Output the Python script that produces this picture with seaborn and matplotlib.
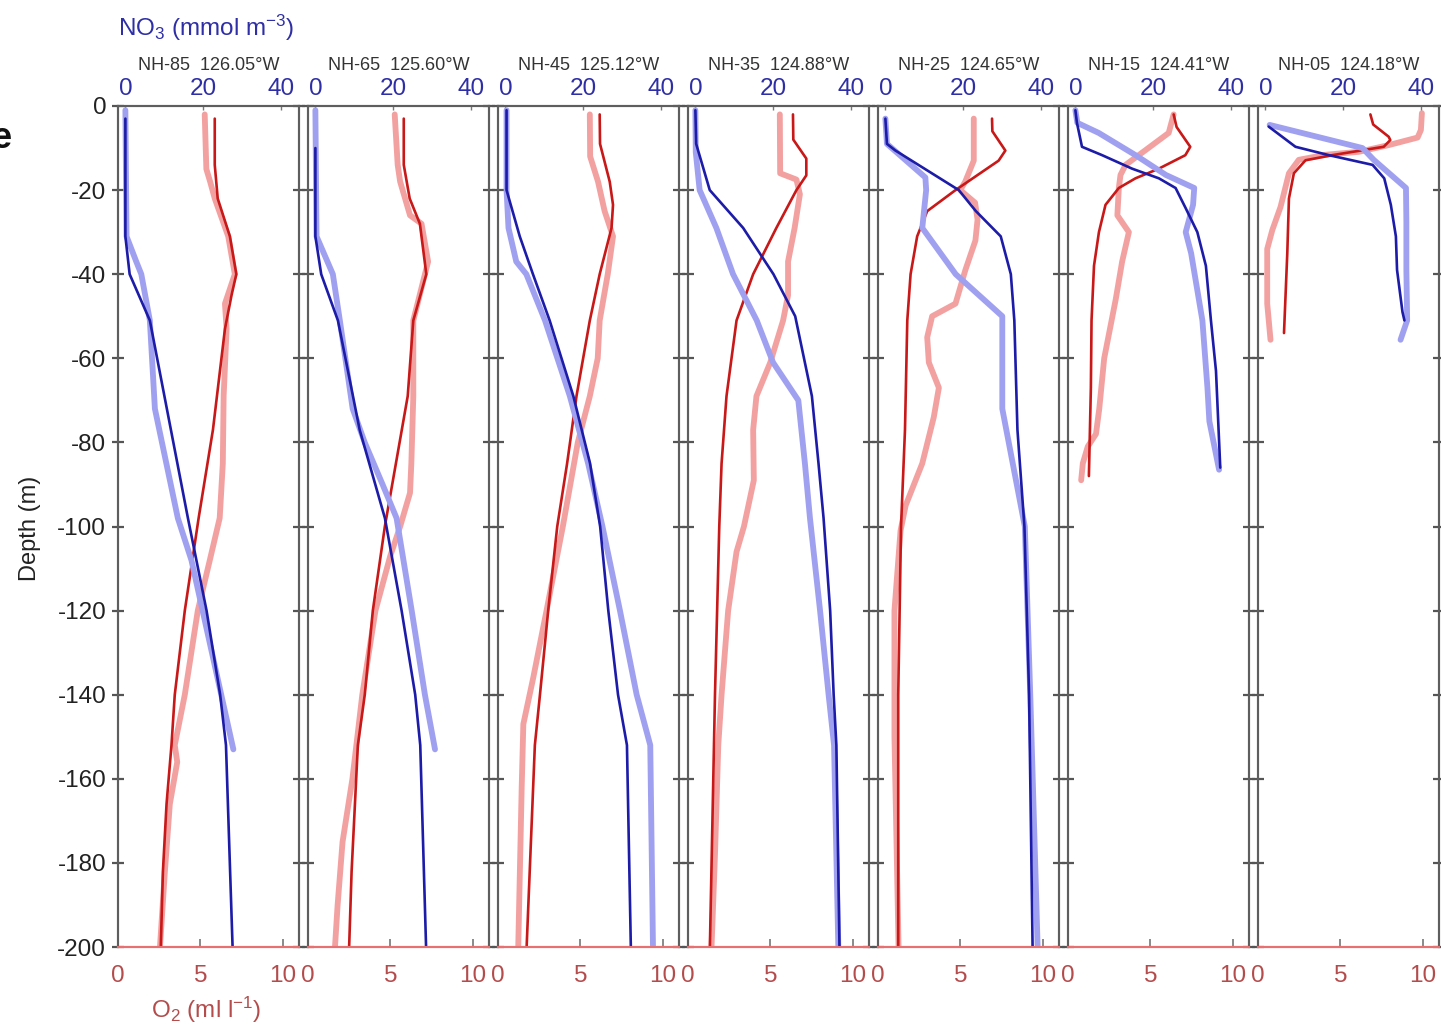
import numpy as np
import matplotlib
matplotlib.use("Agg")
import matplotlib.pyplot as plt
import seaborn as sns

# ---------------------------------------------------------------------------
# Station labels
# ---------------------------------------------------------------------------
stations = ["NH-85", "NH-65", "NH-45", "NH-35", "NH-25", "NH-15", "NH-05"]
longitudes = ["126.05", "125.60", "125.12", "124.88", "124.65", "124.41", "124.18"]

# ---------------------------------------------------------------------------
# Profiles: depth (m) and value; "a" = dark cast, "b" = pale cast
# O2 in ml/l, NO3 in mmol/m3
# ---------------------------------------------------------------------------
# NH-85
nh85_o2a_z = [3, 14, 22, 31, 40, 45, 53, 77, 98, 120, 140, 152, 166, 182, 200]
nh85_o2a = [5.88, 5.88, 6.06, 6.8, 7.19, 6.9, 6.5, 5.77, 4.9, 4.06, 3.45, 3.25, 2.95, 2.73, 2.6]
nh85_o2b_z = [2, 15, 18, 22, 31, 40, 47, 53, 69, 85, 98, 108, 120, 140, 152, 156, 166, 182, 200]
nh85_o2b = [5.27, 5.37, 5.6, 5.88, 6.7, 7.1, 6.5, 6.6, 6.42, 6.37, 6.18, 5.58, 4.85, 4.06, 3.45, 3.6, 3.15, 2.85, 2.55]
nh85_no3a_z = [3, 31, 40, 51, 98, 120, 140, 152, 200]
nh85_no3a = [0.0, 0.0, 1.1, 6.3, 16.1, 20.9, 24.4, 25.9, 27.6]
nh85_no3b_z = [1, 31, 37, 40, 51, 72, 98, 108, 153]
nh85_no3b = [0.0, 0.3, 2.8, 4.1, 6.3, 7.6, 13.5, 17.0, 27.8]

# NH-65
nh65_o2a_z = [3, 14, 22, 28, 40, 51, 69, 100, 120, 140, 152, 182, 200]
nh65_o2a = [5.82, 5.82, 6.18, 6.8, 7.19, 6.4, 6.06, 4.67, 3.94, 3.45, 3.03, 2.65, 2.5]
nh65_o2b_z = [2, 14, 18, 26, 28, 37, 51, 69, 85, 92, 100, 107, 120, 140, 160, 175, 190, 200]
nh65_o2b = [5.27, 5.45, 5.6, 6.2, 6.9, 7.3, 6.4, 6.4, 6.28, 6.2, 5.6, 5.0, 4.1, 3.3, 2.7, 2.1, 1.8, 1.64]
nh65_no3a_z = [10, 31, 40, 51, 77, 98, 120, 140, 152, 200]
nh65_no3a = [0.0, 0.0, 1.5, 5.8, 11.4, 17.9, 22.2, 25.7, 27.0, 28.5]
nh65_no3b_z = [1, 31, 40, 51, 72, 80, 90, 98, 120, 140, 153]
nh65_no3b = [0.0, 0.3, 4.5, 6.3, 9.6, 12.7, 17.3, 20.9, 24.8, 28.2, 30.8]

# NH-45
nh45_o2a_z = [2, 9, 18, 23.5, 29, 40, 51, 69, 85, 100, 120, 140, 152, 200]
nh45_o2a = [6.18, 6.2, 6.79, 6.99, 6.9, 6.18, 5.58, 4.77, 4.2, 3.6, 3.05, 2.55, 2.24, 1.74]
nh45_o2b_z = [2, 12, 18, 25, 31, 40, 51, 60, 69, 80, 100, 120, 136, 147, 162, 200]
nh45_o2b = [5.58, 5.6, 6.08, 6.48, 6.99, 6.67, 6.18, 6.06, 5.58, 4.85, 3.94, 2.95, 2.14, 1.54, 1.44, 1.23]
nh45_no3a_z = [1, 20, 31, 40, 51, 69, 85, 100, 120, 140, 152, 200]
nh45_no3a = [0.3, 0.3, 3.7, 7.1, 11.4, 17.5, 21.8, 24.4, 26.5, 29.0, 31.3, 32.3]
nh45_no3b_z = [1, 20, 29, 37, 40, 51, 69, 85, 100, 120, 140, 152, 200]
nh45_no3b = [0.3, 0.3, 0.8, 2.8, 5.4, 10.2, 16.6, 21.3, 25.0, 29.5, 33.8, 37.3, 38.0]

# NH-35
nh35_o2a_z = [2, 8, 12.5, 16.5, 20, 29, 40, 51, 69, 85, 100, 140, 200]
nh35_o2a = [6.38, 6.4, 7.19, 7.19, 6.59, 5.37, 3.96, 2.95, 2.34, 2.04, 1.9, 1.64, 1.33]
nh35_o2b_z = [2, 16, 17.5, 21, 29, 37, 45, 51, 61, 69, 77, 89, 100, 106, 120, 140, 152, 178, 200]
nh35_o2b = [5.58, 5.6, 6.59, 6.8, 6.48, 6.08, 6.08, 5.78, 5.0, 4.16, 3.96, 4.0, 3.4, 2.95, 2.44, 2.04, 1.84, 1.64, 1.43]
nh35_no3a_z = [1, 9, 20, 29, 40, 50, 69, 85, 98, 120, 140, 152, 200]
nh35_no3a = [0.0, 0.2, 3.7, 12.3, 20.1, 25.7, 30.0, 31.7, 33.0, 34.7, 35.6, 36.3, 37.1]
nh35_no3b_z = [1, 11, 20, 29, 40, 51, 61, 70, 85, 98, 120, 140, 152, 200]
nh35_no3b = [0.0, 0.1, 1.1, 5.4, 9.7, 15.8, 20.0, 26.5, 28.2, 29.5, 32.1, 34.3, 35.7, 36.8]

# NH-25
nh25_o2a_z = [3, 6, 10.6, 13, 20, 25, 31, 40, 51, 77, 100, 140, 200]
nh25_o2a = [6.93, 6.95, 7.74, 7.33, 4.71, 2.99, 2.38, 1.98, 1.78, 1.64, 1.4, 1.23, 1.23]
nh25_o2b_z = [3, 13, 18, 20, 23, 27, 32, 39, 47, 50, 55, 61, 67, 74, 85, 95, 101, 120, 150, 200]
nh25_o2b = [5.82, 5.82, 5.3, 5.0, 5.9, 6.05, 5.92, 5.31, 4.71, 3.29, 2.99, 3.09, 3.7, 3.39, 2.69, 1.68, 1.37, 1.0, 1.0, 1.25]
nh25_no3a_z = [3, 9, 10.6, 20, 25, 31, 40, 51, 77, 100, 140, 200]
nh25_no3a = [0.0, 0.4, 2.6, 18.9, 23.3, 29.7, 32.3, 33.2, 34.0, 35.8, 37.0, 37.9]
nh25_no3b_z = [3, 9, 17, 20, 29, 40, 50, 72, 100, 140, 200]
nh25_no3b = [0.0, 0.4, 10.3, 10.5, 9.5, 18.1, 30.1, 30.1, 35.9, 37.3, 39.2]

# NH-15
nh15_o2a_z = [2, 5, 9.7, 11.7, 14.9, 17.2, 19.5, 23.5, 30, 38, 51, 67, 88]
nh15_o2a = [6.42, 6.6, 7.43, 7.13, 5.52, 4.1, 3.09, 2.28, 1.88, 1.58, 1.43, 1.39, 1.27]
nh15_o2b_z = [2, 6.4, 10.5, 14, 16.4, 19.5, 26, 30, 37, 46, 60, 72, 78, 81, 85, 89]
nh15_o2b = [6.42, 6.12, 4.71, 3.5, 3.19, 3.09, 3.0, 3.7, 3.29, 2.9, 2.2, 1.9, 1.7, 1.2, 0.9, 0.8]
nh15_no3a_z = [1, 4, 9.7, 11.7, 14.9, 17.2, 19.5, 24.3, 30, 38, 51, 63, 86]
nh15_no3a = [0.0, 0.4, 1.7, 6.9, 14.6, 21.5, 25.8, 28.4, 31.4, 33.6, 34.9, 36.2, 37.3]
nh15_no3b_z = [1, 4, 6.4, 11.7, 16.4, 19.5, 23.5, 30, 35, 51, 67, 75, 86.5]
nh15_no3b = [0.0, 0.5, 6.0, 15.5, 23.3, 30.6, 30.3, 28.4, 29.8, 32.7, 34.0, 34.5, 37.0]

# NH-05
nh05_o2a_z = [2, 4.4, 7.3, 8.1, 9.7, 11.7, 12.9, 16, 22, 35, 54]
nh05_o2a = [6.83, 7.0, 7.94, 8.04, 7.64, 4.5, 2.89, 2.18, 1.88, 1.78, 1.58]
nh05_o2b_z = [1.7, 5.7, 7.5, 9.3, 10.9, 11.6, 12.8, 16, 24, 29.5, 34, 47, 55.6]
nh05_o2b = [9.96, 9.9, 9.7, 7.94, 6.12, 4.1, 2.48, 1.88, 1.37, 0.87, 0.56, 0.56, 0.76]
nh05_no3a_z = [4.9, 9.7, 11.7, 14, 17.2, 23.5, 31, 39, 49, 51]
nh05_no3a = [0.85, 7.75, 16.4, 27.6, 30.6, 32.3, 33.6, 33.9, 35.3, 35.8]
nh05_no3b_z = [4.5, 10, 12.8, 19.5, 27.5, 39, 51, 55.6]
nh05_no3b = [1.1, 25.0, 27.9, 36.2, 36.3, 36.3, 36.5, 34.8]

profiles = [
    (nh85_o2a_z, nh85_o2a, nh85_o2b_z, nh85_o2b, nh85_no3a_z, nh85_no3a, nh85_no3b_z, nh85_no3b),
    (nh65_o2a_z, nh65_o2a, nh65_o2b_z, nh65_o2b, nh65_no3a_z, nh65_no3a, nh65_no3b_z, nh65_no3b),
    (nh45_o2a_z, nh45_o2a, nh45_o2b_z, nh45_o2b, nh45_no3a_z, nh45_no3a, nh45_no3b_z, nh45_no3b),
    (nh35_o2a_z, nh35_o2a, nh35_o2b_z, nh35_o2b, nh35_no3a_z, nh35_no3a, nh35_no3b_z, nh35_no3b),
    (nh25_o2a_z, nh25_o2a, nh25_o2b_z, nh25_o2b, nh25_no3a_z, nh25_no3a, nh25_no3b_z, nh25_no3b),
    (nh15_o2a_z, nh15_o2a, nh15_o2b_z, nh15_o2b, nh15_no3a_z, nh15_no3a, nh15_no3b_z, nh15_no3b),
    (nh05_o2a_z, nh05_o2a, nh05_o2b_z, nh05_o2b, nh05_no3a_z, nh05_no3a, nh05_no3b_z, nh05_no3b),
]

o2_ticks = [0, 5, 10]
no3_ticks = [0, 20, 40]
depth_ticks = list(range(-200, 1, 20))

# ---------------------------------------------------------------------------
# Styling
# ---------------------------------------------------------------------------
sns.set_style("white")
plt.rcParams["font.family"] = ["Liberation Sans", "DejaVu Sans"]
plt.rcParams["mathtext.fontset"] = "custom"
plt.rcParams["mathtext.rm"] = "Liberation Sans"
plt.rcParams["mathtext.it"] = "Liberation Sans:italic"
plt.rcParams["mathtext.bf"] = "Liberation Sans:bold"
plt.rcParams["mathtext.default"] = "regular"
plt.rcParams["axes.unicode_minus"] = False

RED_DARK = "#c81818"
RED_PALE = "#f3a0a0"
BLUE_DARK = "#1c1ca8"
BLUE_PALE = "#a0a0f0"
RED_TXT = "#b44c4c"
BLUE_TXT = "#2e2ea6"
SPINE = "#5e5e5e"

W, H = 1441, 1032
fig = plt.figure(figsize=(W / 100, H / 100), dpi=100)

left0, step, pw = 118, 190, 181
top_px, bot_px = 106, 947

for i, (st, lon, prof) in enumerate(zip(stations, longitudes, profiles)):
    o2a_z, o2a, o2b_z, o2b, n3a_z, n3a, n3b_z, n3b = prof
    x0 = left0 + i * step
    ax = fig.add_axes([x0 / W, (H - bot_px) / H, pw / W, (bot_px - top_px) / H])
    ax2 = ax.twiny()

    # pale casts first, dark casts on top
    sns.lineplot(x=o2b, y=-np.asarray(o2b_z), sort=False, estimator=None,
                 ax=ax, color=RED_PALE, linewidth=4.2, legend=False)
    sns.lineplot(x=o2a, y=-np.asarray(o2a_z), sort=False, estimator=None,
                 ax=ax, color=RED_DARK, linewidth=1.9, legend=False)
    sns.lineplot(x=n3b, y=-np.asarray(n3b_z), sort=False, estimator=None,
                 ax=ax2, color=BLUE_PALE, linewidth=4.2, legend=False)
    sns.lineplot(x=n3a, y=-np.asarray(n3a_z), sort=False, estimator=None,
                 ax=ax2, color=BLUE_DARK, linewidth=1.9, legend=False)

    ax.set_xlim(0, 11)
    ax.set_ylim(-200, 0)
    ax2.set_xlim(-1.9, 44.7)
    ax.set_xlabel("")
    ax.set_ylabel("")
    ax2.set_xlabel("")
    ax2.set_ylabel("")

    ax.set_xticks(o2_ticks)
    ax.set_xticklabels([str(t) for t in o2_ticks])
    ax.set_yticks(depth_ticks)
    ax.set_yticklabels([str(t) for t in depth_ticks])
    ax2.set_xticks(no3_ticks)
    ax2.set_xticklabels([str(t) for t in no3_ticks])

    ax.tick_params(axis="x", direction="in", length=6, width=1.2, color="#777777",
                   labelsize=17.5, labelcolor=RED_TXT, pad=13, top=False)
    ax.tick_params(axis="y", direction="inout", length=9, width=1.6, color="#555555",
                   labelsize=17.5, labelcolor="#222222", left=True, right=True,
                   labelleft=(i == 0), labelright=False, pad=4)
    ax2.tick_params(axis="x", direction="in", length=3, width=1.0, color="#777777",
                    labelsize=17.5, labelcolor=BLUE_TXT, pad=4, bottom=False)

    for a in (ax, ax2):
        for side in ("left", "right", "top"):
            a.spines[side].set_color(SPINE)
            a.spines[side].set_linewidth(1.5)
        a.spines["bottom"].set_color("#e87070")
        a.spines["bottom"].set_linewidth(1.5)

    ax.text(0.5, (bot_px - 66) / (bot_px - top_px), f"{st}  {lon}°W",
            transform=ax.transAxes, ha="center", va="center",
            fontsize=13, color="#333333")

fig.text(118 / W, 1 - 28 / H, r"NO$_3$ (mmol m$^{-3}$)", color=BLUE_TXT,
         fontsize=17.5, ha="left", va="center")
fig.text(206 / W, 1 - 1010 / H, r"O$_2$ (ml l$^{-1}$)", color=RED_TXT,
         fontsize=17.5, ha="center", va="center")
fig.text(30 / W, 1 - 528 / H, "Depth (m)", rotation=90, color="#222222",
         fontsize=17, ha="center", va="center")
fig.text(-0.006, 1 - 138 / H, "e", fontsize=26, fontweight="bold",
         color="#111111", ha="left", va="center")

fig.savefig("out.png", dpi=100)
